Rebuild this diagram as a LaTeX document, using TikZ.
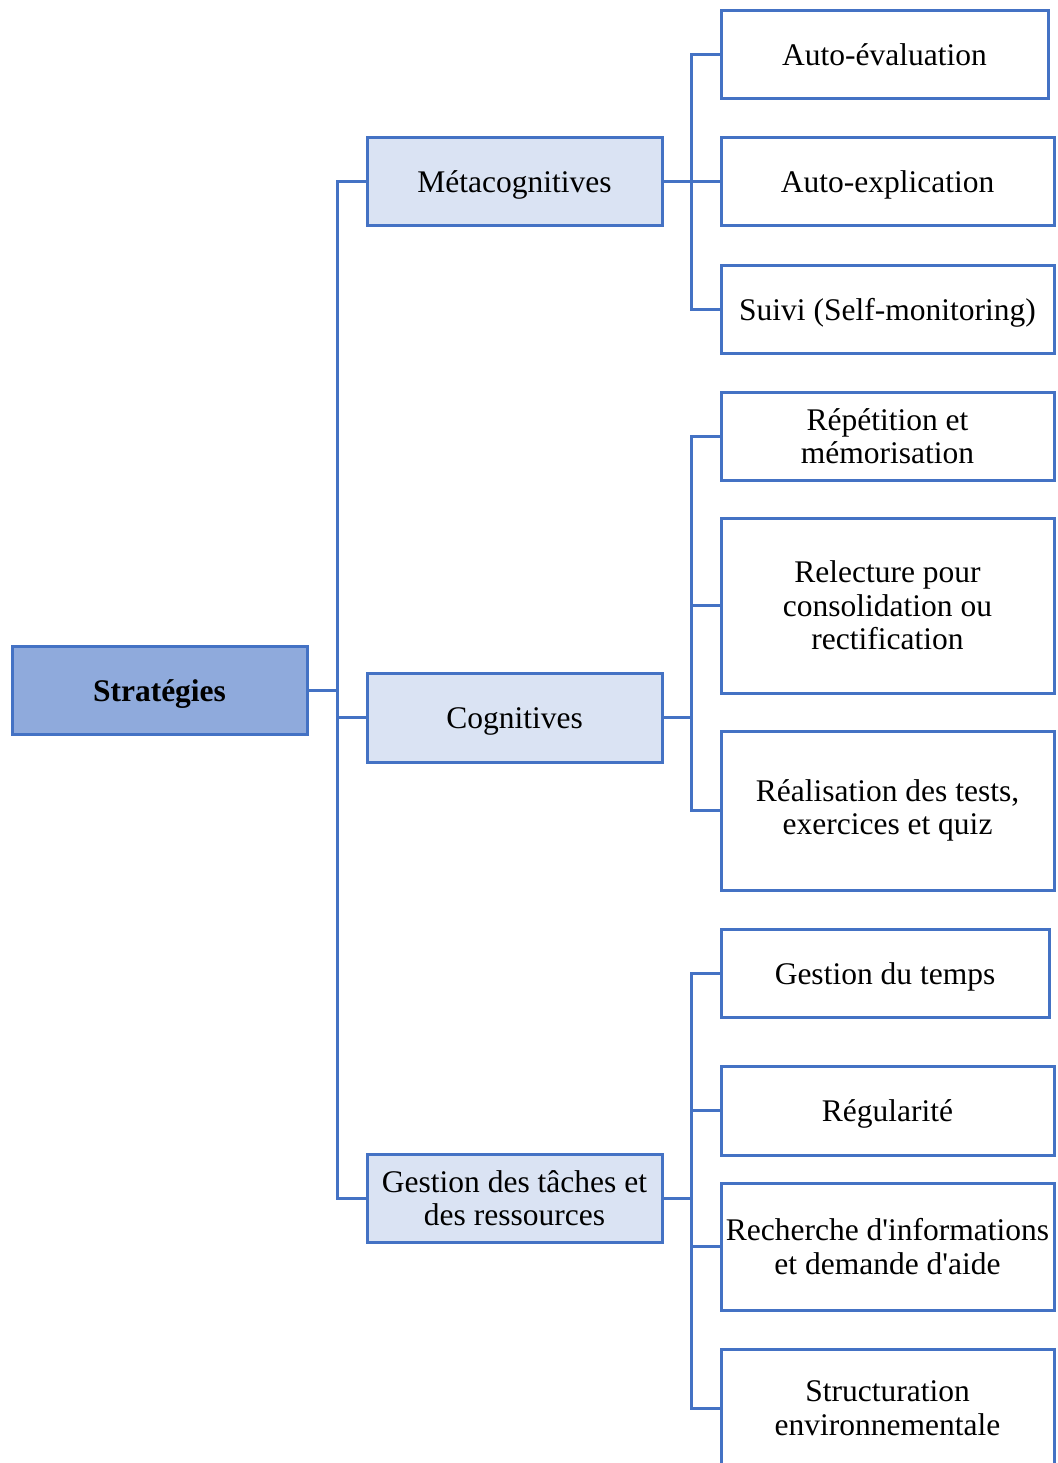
\documentclass[tikz,border=0pt]{standalone}
\usepackage{fontspec}
\setmainfont{Liberation Serif}
\definecolor{edgeblue}{HTML}{4472C4}
\definecolor{rootfill}{HTML}{8FAADC}
\definecolor{midfill}{HTML}{DAE3F3}
\begin{document}
\begin{tikzpicture}[x=1pt,y=-1pt,
  box/.style={draw=edgeblue, line width=3pt, rectangle, inner sep=0pt, outer sep=0pt,
    align=center, font=\fontsize{31.5}{33.5}\selectfont},
  oneline/.style={text height=29pt, text depth=7pt},
  rootbox/.style={box, oneline, fill=rootfill, font=\fontsize{31.5}{33.5}\selectfont\bfseries},
  midbox/.style={box, fill=midfill},
  leafbox/.style={box, fill=white},
  link/.style={draw=edgeblue, line width=3pt}]
\useasboundingbox (0,0) rectangle (1057,1463);
\fill[white] (0,0) rectangle (1057,1463);

% root
\node[rootbox, minimum width=295pt, minimum height=88pt] (strat) at (159.5,690) {Stratégies};

% three families
\node[midbox, oneline, minimum width=295pt, minimum height=88pt] (meta) at (514.5,182) {Métacognitives};
\node[midbox, oneline, minimum width=295pt, minimum height=89pt] (cogn) at (514.5,717.5) {Cognitives};
\node[midbox, minimum width=295pt, minimum height=88pt] (gest) at (514.5,1198) {Gestion des tâches et\\des ressources};

% metacognitive strategies
\node[leafbox, oneline, minimum width=327pt, minimum height=88pt] (r1) at (884.5,55) {Auto-évaluation};
\node[leafbox, oneline, minimum width=333pt, minimum height=88pt] (r2) at (887.5,182) {Auto-explication};
\node[leafbox, oneline, minimum width=333pt, minimum height=88pt] (r3) at (887.5,309) {Suivi (Self-monitoring)};

% cognitive strategies
\node[leafbox, minimum width=333pt, minimum height=88pt] (r4) at (887.5,436) {Répétition et\\mémorisation};
\node[leafbox, minimum width=333pt, minimum height=175pt] (r5) at (887.5,605.5) {Relecture pour\\consolidation ou\\rectification};
\node[leafbox, minimum width=333pt, minimum height=159pt] (r6) at (887.5,810.5) {Réalisation des tests,\\exercices et quiz};

% task and resource management
\node[leafbox, oneline, minimum width=328pt, minimum height=88pt] (r7) at (885,973) {Gestion du temps};
\node[leafbox, oneline, minimum width=333pt, minimum height=89pt] (r8) at (887.5,1110.5) {Régularité};
\node[leafbox, minimum width=333pt, minimum height=127pt] (r9) at (887.5,1246.5) {Recherche d\textquotesingle informations\\et demande d\textquotesingle aide};
\node[leafbox, minimum width=333pt, minimum height=118pt] (r10) at (887.5,1408) {Structuration\\environnementale};

% vertical bus positions
\coordinate (busA) at (337,0);
\coordinate (busB) at (691.5,0);

% root to families
\draw[link] (strat.east) -- (strat.east -| busA);
\draw[link] (meta.west) -- (meta.west -| busA) -- (gest.west -| busA) -- (gest.west);
\draw[link] (cogn.west) -- (cogn.west -| busA);

% metacognitive branch
\draw[link] (meta.east) -- (meta.east -| busB);
\draw[link] (r1.west) -- (r1.west -| busB) -- (r3.west -| busB) -- (r3.west);
\draw[link] (r2.west) -- (r2.west -| busB);

% cognitive branch
\draw[link] (cogn.east) -- (cogn.east -| busB);
\draw[link] (r4.west) -- (r4.west -| busB) -- (r6.west -| busB) -- (r6.west);
\draw[link] (r5.west) -- (r5.west -| busB);

% management branch
\draw[link] (gest.east) -- (gest.east -| busB);
\draw[link] (r7.west) -- (r7.west -| busB) -- (r10.west -| busB) -- (r10.west);
\draw[link] (r8.west) -- (r8.west -| busB);
\draw[link] (r9.west) -- (r9.west -| busB);
\end{tikzpicture}
\end{document}
